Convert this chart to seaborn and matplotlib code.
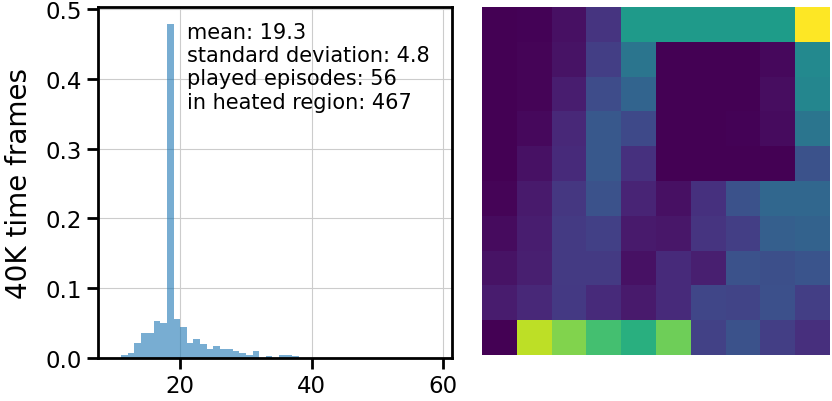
import numpy as np
import pandas as pd
import matplotlib
matplotlib.use("Agg")
import matplotlib.pyplot as plt
import seaborn as sns

# Histogram: integer bins (left edges) and their density heights
bin_left = [11, 12, 13, 14, 15, 16, 17, 18, 19, 20, 21, 22, 23, 24, 25, 26, 27,
            28, 29, 30, 31, 32, 33, 34, 35, 36, 37]
density = [0.003, 0.007, 0.021, 0.035, 0.035, 0.052, 0.050, 0.479, 0.056, 0.044,
           0.021, 0.027, 0.019, 0.013, 0.016, 0.012, 0.013, 0.010, 0.007, 0.004,
           0.009, 0.000, 0.002, 0.000, 0.004, 0.004, 0.002]

x_ticks = [20, 40, 60]
y_ticks = [0.0, 0.1, 0.2, 0.3, 0.4, 0.5]
y_label = "40K time frames"
stats_text = ["mean: 19.3", "standard deviation: 4.8",
              "played episodes: 56", "in heated region: 467"]

# Heat map (10 x 10), normalised visit intensity
heat = [
    [0.00, 0.005, 0.04, 0.15, 0.54, 0.54, 0.54, 0.54, 0.55, 1.00],
    [0.00, 0.010, 0.05, 0.18, 0.39, 0.00, 0.00, 0.00, 0.02, 0.47],
    [0.00, 0.010, 0.08, 0.23, 0.32, 0.00, 0.00, 0.00, 0.035, 0.46],
    [0.00, 0.020, 0.11, 0.27, 0.22, 0.00, 0.00, 0.005, 0.03, 0.39],
    [0.00, 0.045, 0.12, 0.27, 0.14, 0.00, 0.00, 0.00, 0.00, 0.25],
    [0.01, 0.070, 0.16, 0.25, 0.10, 0.04, 0.14, 0.25, 0.33, 0.33],
    [0.03, 0.080, 0.17, 0.19, 0.07, 0.06, 0.15, 0.18, 0.30, 0.31],
    [0.05, 0.085, 0.17, 0.17, 0.045, 0.12, 0.085, 0.25, 0.24, 0.26],
    [0.075, 0.11, 0.165, 0.12, 0.07, 0.12, 0.21, 0.20, 0.245, 0.18],
    [0.00, 0.90, 0.81, 0.70, 0.63, 0.78, 0.195, 0.25, 0.18, 0.135],
]

sns.set_theme(context="talk", style="ticks")
plt.rcParams['font.family'] = ['DejaVu Sans']
plt.rcParams.update({
    "text.color": "black",
    "axes.labelcolor": "black",
    "axes.edgecolor": "black",
    "xtick.color": "black",
    "ytick.color": "black",
})

fig = plt.figure(figsize=(8.32, 4.02), dpi=100)
ax1 = fig.add_axes([0.1178, 0.108, 0.4252, 0.873])
ax2 = fig.add_axes([0.5793, 0.1144, 0.4183, 0.8657])

df = pd.DataFrame({"x": np.array(bin_left) + 0.5, "w": density})
edges = list(bin_left) + [bin_left[-1] + 1]
sns.histplot(data=df, x="x", weights="w", bins=edges, stat="count",
             color="#1f77b4", alpha=0.6, linewidth=0, ax=ax1)
ax1.set_axisbelow(True)
ax1.grid(True, color="#cccccc", linewidth=0.8)
ax1.set_xlim(7.5, 61.3)
ax1.set_ylim(0, 0.504)
ax1.set_xticks(x_ticks)
ax1.set_yticks(y_ticks)
ax1.set_xlabel("")
ax1.set_ylabel(y_label, fontsize=20, labelpad=9)
for s in ax1.spines.values():
    s.set_linewidth(2.0)
    s.set_visible(True)
ax1.tick_params(width=2.0, length=8)
ax1.text(0.252, 0.956, "\n".join(stats_text), transform=ax1.transAxes,
         va="top", ha="left", fontsize=15, linespacing=1.2)

sns.heatmap(np.array(heat), cmap="viridis", vmin=0, vmax=1, cbar=False,
            xticklabels=False, yticklabels=False, ax=ax2)
ax2.set_aspect("equal")
ax2.set_xlabel("")
ax2.set_ylabel("")

fig.savefig("out.png", dpi=100)
